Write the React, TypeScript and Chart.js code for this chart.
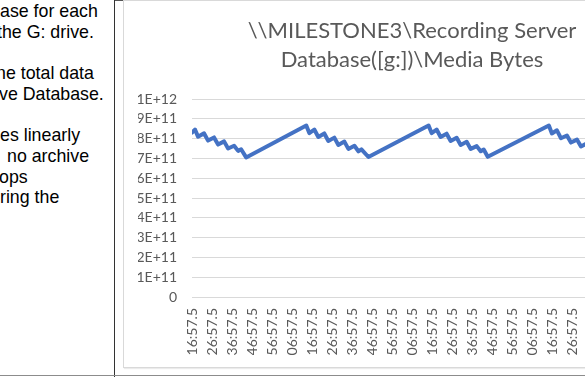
import React, { useEffect, useRef } from "react";
import { Chart, registerables } from "chart.js";

Chart.register(...registerables);

// Elapsed minutes from the first sample (16:57.5) and the measured media bytes
const minutes = [
  0, 1.5, 3, 6, 8, 11, 13, 16, 18, 21, 23, 24.5, 27,
  57, 58.5, 61, 63, 66, 68, 71, 73, 76, 78, 81, 83, 84.5, 88,
  118, 119.5, 122, 124, 127, 129, 132, 134, 137, 139, 142, 144, 145.5, 147.5,
  178, 179.5, 182, 184, 187, 189, 192, 194, 197, 199, 202, 204, 205.5, 208,
  238, 240,
];
const mediaBytes = [
  8.3e11, 8.46e11, 8.1e11, 8.27e11, 7.9e11, 8.06e11, 7.7e11, 7.86e11, 7.5e11, 7.64e11, 7.38e11, 7.46e11, 7.05e11,
  8.66e11, 8.28e11, 8.46e11, 8.08e11, 8.26e11, 7.88e11, 8.05e11, 7.68e11, 7.85e11, 7.48e11, 7.64e11, 7.36e11, 7.46e11, 7.07e11,
  8.66e11, 8.28e11, 8.46e11, 8.08e11, 8.25e11, 7.88e11, 8.04e11, 7.68e11, 7.84e11, 7.48e11, 7.62e11, 7.36e11, 7.45e11, 7.08e11,
  8.66e11, 8.26e11, 8.42e11, 8.02e11, 8.16e11, 7.8e11, 7.95e11, 7.6e11, 7.76e11, 7.44e11, 7.58e11, 7.32e11, 7.42e11, 7.06e11,
  8.66e11, 8.32e11,
];
const xTickLabels = [
  "16:57.5", "26:57.5", "36:57.5", "46:57.5", "56:57.5", "06:57.5",
  "16:57.5", "26:57.5", "36:57.5", "46:57.5", "56:57.5", "06:57.5",
  "16:57.5", "26:57.5", "36:57.5", "46:57.5", "56:57.5", "06:57.5",
  "16:57.5", "26:57.5", "36:57.5", "46:57.5", "56:57.5", "06:57.5",
  "16:57.5",
];
const yTickLabels = ["0", "1E+11", "2E+11", "3E+11", "4E+11", "5E+11", "6E+11", "7E+11", "8E+11", "9E+11", "1E+12"];
const titleLines = ["\\\\MILESTONE3\\Recording Server", "Database([g:])\\Media Bytes"];

const noteLines: [string, number][] = [
  ["ase for each", 0],
  ["the G: drive.", -3],
  ["", 0],
  ["ne total data", -4],
  ["ve Database.", -1],
  ["", 0],
  ["es linearly", 0],
  ["no archive", 7],
  ["ops", -1],
  ["ring the", 0],
];

const labelFont = { family: "Lato", size: 14 };

export default function App() {
  const ref = useRef<HTMLCanvasElement>(null);

  useEffect(() => {
    const canvas = ref.current;
    if (!canvas) return;
    const chart = new Chart(canvas, {
      type: "line",
      data: {
        datasets: [
          {
            data: minutes.map((m, i) => ({ x: m, y: mediaBytes[i] })),
            borderColor: "#4472C4",
            borderWidth: 4,
            pointRadius: 0,
            tension: 0,
            fill: false,
            borderJoinStyle: "round",
            borderCapStyle: "round",
          },
        ],
      },
      options: {
        animation: false,
        responsive: false,
        devicePixelRatio: 1,
        layout: { padding: { left: 15, right: 15, top: 0, bottom: 13 } },
        plugins: {
          legend: { display: false },
          tooltip: { enabled: false },
          title: {
            display: true,
            text: titleLines,
            color: "#595959",
            font: { family: "Lato", size: 22, weight: "normal", lineHeight: 1.33 },
            padding: { top: 16, bottom: 24.5 },
          },
        },
        scales: {
          x: {
            type: "linear",
            min: 0,
            max: 240,
            afterBuildTicks: (s: any) => {
              s.ticks = xTickLabels.map((_, i) => ({ value: i * 10 }));
            },
            afterFit: (s: any) => {
              s.height = 58;
            },
            grid: { display: false, drawTicks: false },
            border: { display: true, color: "#d9d9d9", width: 1 },
            ticks: {
              autoSkip: false,
              maxRotation: 90,
              minRotation: 90,
              padding: 11,
              color: "#595959",
              font: labelFont,
              callback: (v: any) => xTickLabels[Math.round(Number(v) / 10)],
            },
          },
          y: {
            min: 0,
            max: 1e12,
            afterBuildTicks: (s: any) => {
              s.ticks = yTickLabels.map((_, i) => ({ value: i * 1e11 }));
            },
            afterFit: (s: any) => {
              s.width = 54;
            },
            grid: { color: "#d9d9d9", drawTicks: false },
            border: { display: false },
            ticks: {
              autoSkip: false,
              padding: 15,
              color: "#595959",
              font: labelFont,
              callback: (v: any) => yTickLabels[Math.round(Number(v) / 1e11)],
            },
          },
        },
      },
    } as any);
    return () => chart.destroy();
  }, []);

  return (
    <div
      style={{
        position: "fixed",
        left: 0,
        top: 0,
        width: 585,
        height: 377,
        overflow: "hidden",
        background: "#fff",
      }}
    >
      <div
        style={{
          position: "absolute",
          left: 0,
          top: 1,
          width: 114,
          overflow: "hidden",
          fontFamily: "'Liberation Sans', Arial, sans-serif",
          fontSize: 17.8,
          lineHeight: "20.7px",
          color: "#000",
          whiteSpace: "nowrap",
        }}
      >
        {noteLines.map(([t, x], i) => (
          <div key={i} style={{ height: 20.7, position: "relative", left: x }}>
            {t}
          </div>
        ))}
      </div>
      <div style={{ position: "absolute", left: 114, top: 0, width: 1, height: 377, background: "#333" }} />
      <div style={{ position: "absolute", left: 115, top: 0, width: 470, height: 1, background: "#555" }} />
      <div style={{ position: "absolute", left: 0, top: 375, width: 585, height: 1, background: "#8c8c8c" }} />
      <div
        style={{
          position: "absolute",
          left: 123,
          top: 0,
          width: 578,
          height: 368,
          boxSizing: "border-box",
          border: "1px solid #d9d9d9",
          boxShadow: "1px 1px 1px rgba(0,0,0,0.08)",
        }}
      />
      <canvas ref={ref} width={578} height={368} style={{ position: "absolute", left: 123, top: 0 }} />
    </div>
  );
}
